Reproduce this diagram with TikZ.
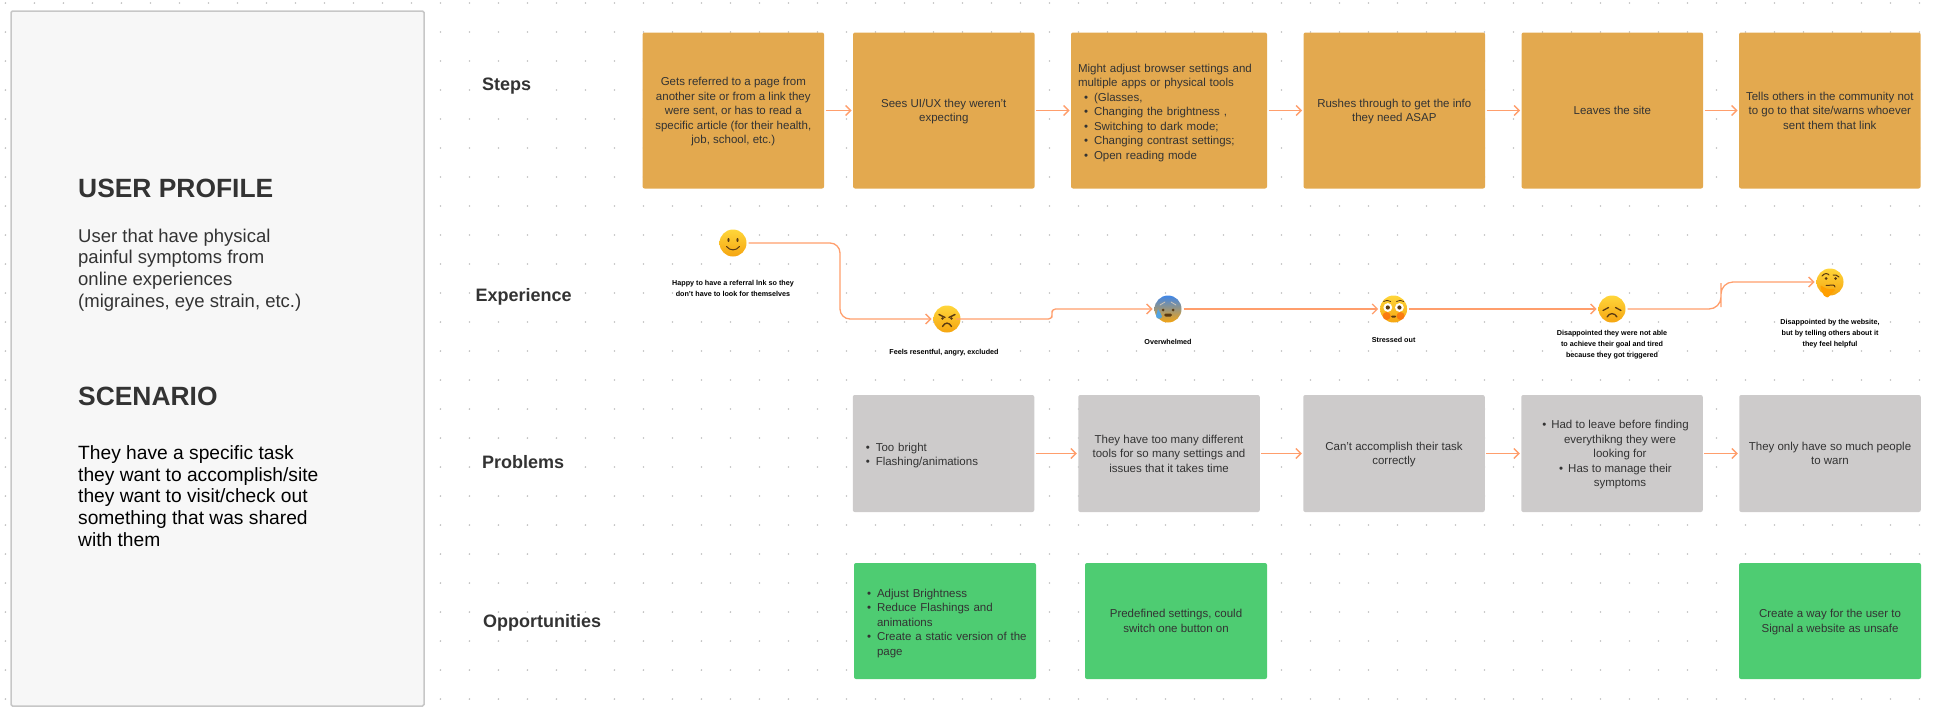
\documentclass[tikz,border=0pt]{standalone}
\usepackage{fontspec}
\setmainfont{Liberation Sans}
\usetikzlibrary{arrows.meta}
\definecolor{stepcol}{HTML}{E3A94F}
\definecolor{probcol}{HTML}{CDCBCB}
\definecolor{oppcol}{HTML}{4ECC72}
\definecolor{flowcol}{HTML}{FF9E6C}
\definecolor{inkcol}{HTML}{333333}
\definecolor{facecol}{HTML}{5A3A12}
\definecolor{facetop}{HTML}{FFD63A}
\definecolor{facelow}{HTML}{F5A511}
\definecolor{coldtop}{HTML}{3F86E8}
\definecolor{coldmid}{HTML}{F3D060}
\newcommand{\bitem}{\hspace*{6pt}\makebox[10pt][l]{\textbullet}}
\newcommand{\bcont}{\hspace*{16pt}}
\newcommand{\citem}{\hspace*{16pt}\llap{\textbullet\hspace{5pt}}}
\tikzset{
    griddot/.style = {fill=black!25},
    panel/.style = {draw=black!22, line width=1.5pt, fill=black!3, rounded corners=1.5pt, minimum width=413pt, minimum height=695pt},
    bighead/.style = {anchor=west, inner sep=0pt, text=inkcol, font=\fontsize{26.4}{30}\selectfont\bfseries},
    bodytext/.style = {anchor=west, inner sep=0pt, align=left, font=\fontsize{18.5}{21.7}\selectfont},
    rowlabel/.style = {anchor=west, inner sep=0pt, text=inkcol, font=\fontsize{18}{20}\selectfont\bfseries},
    card/.style = {rounded corners=2pt, outer sep=1.5pt, align=center, text=inkcol, text depth=0pt, font=\fontsize{11.5}{14.5}\selectfont},
    stepbox/.style = {card, fill=stepcol, minimum width=181.5pt, minimum height=156pt},
    probbox/.style = {card, fill=probcol, minimum width=181.5pt, minimum height=117pt},
    oppbox/.style = {card, fill=oppcol, minimum width=182pt, minimum height=116pt},
    listtext/.style n args = {2}{align=left, inner xsep=7pt, text width=#1, text depth=#2},
    tinytext/.style = {align=center, inner sep=0pt, text=black, font=\fontsize{7.2}{11}\selectfont\bfseries},
    flow/.style = {draw=flowcol, line width=1.3pt, -{Straight Barb[length=5pt,width=10pt]}},
    faceball/.style = {circle, inner sep=0pt, minimum size=27pt, outer sep=2pt, top color=facetop, bottom color=facelow},
    facestroke/.style = {draw=facecol, line width=1pt, line cap=round},
    pics/smileface/.style = {
        code = {
        \fill [facecol] (-4.5,-3) ellipse (1.1 and 2);
        \fill [facecol] (4.5,-3) ellipse (1.1 and 2);
        \draw [facestroke] (-6.5,3.5) .. controls (-3,8) and (3,8) .. (6.5,3.5);
        }
    },
    pics/angryface/.style = {
        code = {
        \draw [facestroke, line width=1.5pt] (-8,-4.5)--(-2,-1.5);
        \draw [facestroke, line width=1.5pt] (8,-4.5)--(2,-1.5);
        \fill [facecol] (-4.5,-0.5) circle (1.3);
        \fill [facecol] (4.5,-0.5) circle (1.3);
        \draw [facestroke, line width=1.4pt] (-4.5,7.5) .. controls (-2,3) and (2,3) .. (4.5,7.5);
        }
    },
    pics/coldface/.style = {
        code = {
        \draw [facestroke, draw=white!70!facecol, line width=.8pt] (-8,-4)--(-3,-7);
        \draw [facestroke, draw=white!70!facecol, line width=.8pt] (8,-4)--(3,-7);
        \fill [facecol] (-5,1) circle (1.5);
        \fill [facecol] (5,1) circle (1.5);
        \fill [facecol, rounded corners=1.5pt] (-4,7.5) rectangle (4,4.5);
        \fill [cyan!70!blue!70!white] (-10,0) .. controls (-9,3) and (-6,5) .. (-6,7.5) .. controls (-6,10.5) and (-12,10.5) .. (-12,7) .. controls (-12,5) and (-10.5,3) .. (-10,0);
        }
    },
    pics/flushface/.style = {
        code = {
        \fill [red!55!orange, opacity=.45] (-7,7) circle (4);
        \fill [red!55!orange, opacity=.45] (7,7) circle (4);
        \draw [facestroke, line width=.8pt] (-10,-7.5) .. controls (-8,-9) and (-5,-9) .. (-3,-7.5);
        \draw [facestroke, line width=.8pt] (10,-7.5) .. controls (8,-9) and (5,-9) .. (3,-7.5);
        \fill [white] (-5.8,-1.5) circle (4.4);
        \fill [white] (5.8,-1.5) circle (4.4);
        \fill [facecol] (-5.8,-1.5) circle (2.1);
        \fill [facecol] (5.8,-1.5) circle (2.1);
        \fill [facecol, rounded corners=1pt] (-2.5,8.5) rectangle (2.5,6.5);
        }
    },
    pics/sadface/.style = {
        code = {
        \draw [facestroke, line width=1.3pt] (-9,1.5)--(-3.5,-1.5);
        \draw [facestroke, line width=1.3pt] (9,1.5)--(3.5,-1.5);
        \draw [facestroke, line width=1.3pt] (-5,8) .. controls (-2.5,3.5) and (2.5,3.5) .. (5,8);
        }
    },
    pics/thinkface/.style = {
        code = {
        \draw [facestroke] (-8,-6) .. controls (-6,-9) and (-2,-9) .. (-1,-7);
        \draw [facestroke] (3,-7) .. controls (5,-7.5) and (7,-7) .. (9,-5);
        \fill [facecol] (-4,-3.5) circle (1.5);
        \fill [facecol] (5.5,-3.5) circle (1.5);
        \draw [facestroke] (-4,3.5) -- (3,3) .. controls (4,3) and (5,4) .. (5,5);
        \fill [orange!75!yellow, rounded corners=2pt] (-10,3) -- (-2,7.5) -- (5,6.5) -- (5,10) -- (1,10.5) -- (0,15) -- (-5,15.5) -- (-8,10) -- cycle;
        }
    }
}

\begin{document}
\begin{tikzpicture}[x=1pt, y=-1pt]
    \useasboundingbox (0,0) rectangle (1940,726);

    \foreach \i in {0,...,66} {
        \foreach \j in {0,...,24} {
            \fill [griddot] (5.4+29*\i,3+29*\j) circle [radius=0.9];
        }
    }

    \node [panel] (profile) at (217.5,358.5) {};
    \node [bighead] (userhead) at (78,188) {USER PROFILE};
    \node [bodytext, text=inkcol] (userbody) at (78,270) {User that have physical\\painful symptoms from\\online experiences\\(migraines, eye strain, etc.)};
    \node [bighead] (scenhead) at (78,396) {SCENARIO};
    \node [bodytext, text=black, font=\fontsize{19.2}{21.7}\selectfont] (scenbody) at (78,496) {They have a specific task\\they want to accomplish/site\\they want to visit/check out\\something that was shared\\with them};

    \node [rowlabel] (steplabel) at (482,86) {Steps};
    \node [rowlabel] (explabel) at (475.5,297) {Experience};
    \node [rowlabel] (problabel) at (482,462) {Problems};
    \node [rowlabel] (opplabel) at (483,623) {Opportunities};

    \node [stepbox] (S1) at (733.3,110.5) {Gets referred to a page from\\another site or from a link they\\were sent, or has to read a\\specific article (for their health,\\job, school, etc.)};
    \node [stepbox] (S2) at (943.8,110.5) {Sees UI/UX they weren't\\expecting};
    \node [stepbox, minimum width=196pt, listtext={182pt}{84.4pt}] (S3) at (1169,110.5) {Might adjust browser settings and\\multiple apps or physical tools\\\bitem(Glasses,\\\bitem Changing the brightness ,\\\bitem Switching to dark mode;\\\bitem Changing contrast settings;\\\bitem Open reading mode};
    \node [stepbox] (S4) at (1394.3,110.5) {Rushes through to get the info\\they need ASAP};
    \node [stepbox] (S5) at (1612.3,110.5) {Leaves the site};
    \node [stepbox] (S6) at (1829.8,110.5) {Tells others in the community not\\to go to that site/warns whoever\\sent them that link};

    \draw [flow] (S1)--(S2);
    \draw [flow] (S2)--(S3);
    \draw [flow] (S3)--(S4);
    \draw [flow] (S4)--(S5);
    \draw [flow] (S5)--(S6);

    \node [faceball] (smile) at (733,243) {};
    \path pic at (smile) {smileface};
    \node [faceball] (angry) at (947,319) {};
    \path pic at (angry) {angryface};
    \node [faceball, top color=coldtop, middle color=coldmid, bottom color=facelow] (cold) at (1168,309) {};
    \path pic at (cold) {coldface};
    \node [faceball] (flush) at (1393.6,309) {};
    \path pic at (flush) {flushface};
    \node [faceball] (sad) at (1612,309) {};
    \path pic at (sad) {sadface};
    \node [faceball] (think) at (1830,282) {};
    \path pic at (think) {thinkface};

    \coordinate (bendA) at (840,280);
    \coordinate (angryout) at (956,319);
    \coordinate (bendB) at (1052,314);
    \coordinate (bendC) at (1721,295);

    \draw [flow, rounded corners=10pt] (smile.east) -| (bendA) |- (angry.west);
    \draw [flow, rounded corners=3.5pt] (angryout) -| (bendB) |- (cold.west);
    \draw [flow] (cold.east)--(flush.west);
    \draw [flow] (flush.east)--(sad.west);
    \draw [flow, rounded corners=12pt] (sad.east) -| (bendC) |- (think.west);

    \node [tinytext] (smiletext) at (733,288.5) {Happy to have a referral lnk so they\\don't have to look for themselves};
    \node [tinytext] (angrytext) at (944,353) {Feels resentful, angry, excluded};
    \node [tinytext] (coldtext) at (1168,342) {Overwhelmed};
    \node [tinytext] (flushtext) at (1393.6,340) {Stressed out};
    \node [tinytext] (sadtext) at (1612,345) {Disappointed they were not able\\to achieve their goal and tired\\because they got triggered};
    \node [tinytext] (thinktext) at (1830,334) {Disappointed by the website,\\but by telling others about it\\they feel helpful};

    \node [probbox, listtext={167.5pt}{12.9pt}] (P1) at (943.5,453.5) {\bitem Too bright\\\bitem Flashing/animations};
    \node [probbox] (P2) at (1169,453.5) {They have too many different\\tools for so many settings and\\issues that it takes time};
    \node [probbox] (P3) at (1394,453.5) {Can't accomplish their task\\correctly};
    \node [probbox] (P4) at (1612,453.5) {\citem Had to leave before finding\\\bcont everythikng they were\\\bcont looking for\\\citem Has to manage their\\\bcont symptoms};
    \node [probbox] (P5) at (1830,453.5) {They only have so much people\\to warn};

    \draw [flow] (P1)--(P2);
    \draw [flow] (P2)--(P3);
    \draw [flow] (P3)--(P4);
    \draw [flow] (P4)--(P5);

    \node [oppbox, listtext={168pt}{55.4pt}] (O1) at (945,621) {\bitem Adjust Brightness\\\bitem Reduce Flashings and\\\bcont animations\\\bitem Create a static version of the\\\bcont page};
    \node [oppbox] (O2) at (1176,621) {Predefined settings, could\\switch one button on};
    \node [oppbox] (O3) at (1830,621) {Create a way for the user to\\Signal a website as unsafe};

\end{tikzpicture}
\end{document}
